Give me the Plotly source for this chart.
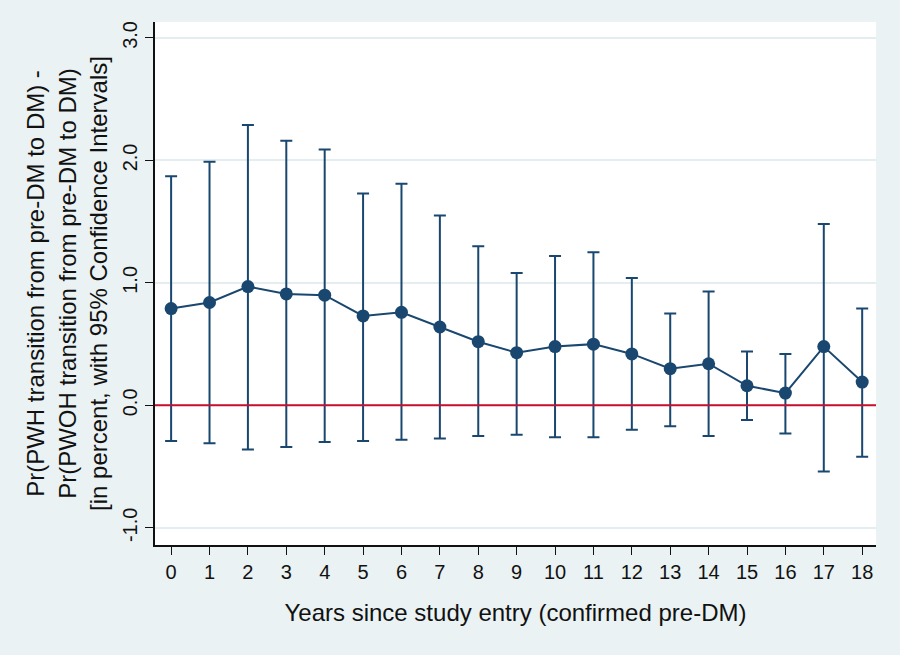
import plotly.graph_objects as go

# Years since study entry
years = list(range(19))

# Difference in transition probability (percent) and 95% CI
estimate = [0.79, 0.84, 0.97, 0.91, 0.90, 0.73, 0.76, 0.64, 0.52, 0.43,
            0.48, 0.50, 0.42, 0.30, 0.34, 0.16, 0.10, 0.48, 0.19]
ci_upper = [1.87, 1.99, 2.29, 2.16, 2.09, 1.73, 1.81, 1.55, 1.30, 1.08,
            1.22, 1.25, 1.04, 0.75, 0.93, 0.44, 0.42, 1.48, 0.79]
ci_lower = [-0.29, -0.31, -0.36, -0.34, -0.30, -0.29, -0.28, -0.27, -0.25, -0.24,
            -0.26, -0.26, -0.20, -0.17, -0.25, -0.12, -0.23, -0.54, -0.42]

y_ticks = [-1.0, 0.0, 1.0, 2.0, 3.0]

navy = '#1A476F'
bg = '#EAF2F3'

err_plus = [u - e for u, e in zip(ci_upper, estimate)]
err_minus = [e - l for e, l in zip(estimate, ci_lower)]

fig = go.Figure()

fig.add_trace(go.Scatter(
    x=years, y=estimate, mode='lines+markers',
    line=dict(color=navy, width=2),
    marker=dict(color=navy, size=13),
    error_y=dict(type='data', symmetric=False, array=err_plus, arrayminus=err_minus,
                 color=navy, thickness=2, width=6),
    showlegend=False,
))

# zero reference line
fig.add_hline(y=0, line=dict(color='#C8102E', width=2), layer='above')

fig.update_layout(
    width=900, height=655,
    margin=dict(l=155, r=24, t=22, b=110),
    paper_bgcolor=bg, plot_bgcolor='white',
    font=dict(family='Arial, Liberation Sans, sans-serif', size=20, color='#111111'),
    xaxis=dict(
        range=[-0.42, 18.36], tickmode='array', tickvals=years,
        ticks='outside', ticklen=8, tickcolor='#111111',
        showline=True, linecolor='#111111', linewidth=1.5,
        showgrid=False, zeroline=False,
        title=dict(text='Years since study entry (confirmed pre-DM)', standoff=22),
    ),
    yaxis=dict(
        range=[-1.14, 3.13], tickmode='array', tickvals=y_ticks,
        ticktext=[f'{v:.1f}' for v in y_ticks], tickangle=-90,
        ticks='outside', ticklen=8, tickcolor='#111111',
        showline=True, linecolor='#111111', linewidth=1.5,
        showgrid=True, gridcolor='#E4EEF1', gridwidth=1.5, zeroline=False,
        title=dict(text='Pr(PWH transition from pre-DM to DM) -<br>'
                        'Pr(PWOH transition from pre-DM to DM)<br>'
                        '[in percent, with 95% Confidence Intervals]',
                   standoff=5),
    ),
)

fig.write_html('out.html', config={'displayModeBar': False},
               post_script="document.body.style.margin='0';")
